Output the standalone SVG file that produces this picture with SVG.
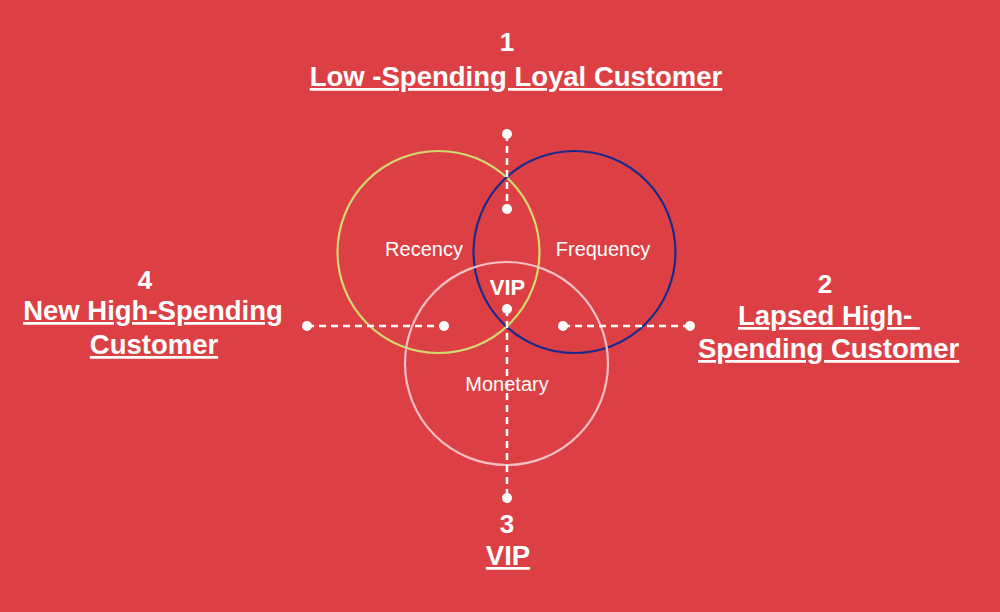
<svg xmlns="http://www.w3.org/2000/svg" width="1000" height="612" viewBox="0 0 1000 612">
<style>
.bg{fill:#DC4045}
.ring{fill:none;stroke-width:2.2}
.lbl{font-family:"Liberation Sans",Arial,sans-serif;font-size:20px;fill:#ffffff}
.num{font-family:"Liberation Sans",Arial,sans-serif;font-size:26px;font-weight:bold;fill:#ffffff;text-anchor:middle}
.ttl{font-family:"Liberation Sans",Arial,sans-serif;font-size:27.5px;font-weight:bold;fill:#ffffff;text-decoration:underline;white-space:pre}
.dash{stroke:#ffffff;stroke-width:2.5;stroke-dasharray:7 5;fill:none}
.dot{fill:#ffffff}
</style>
<rect class="bg" x="0" y="0" width="1000" height="612"/>
<g id="recency">
<circle class="ring" cx="438.5" cy="252" r="101" stroke="#D3DA6C"/>
<text class="lbl" x="424" y="256" text-anchor="middle">Recency</text>
</g>
<g id="frequency">
<circle class="ring" cx="574.5" cy="252" r="101" stroke="#1B2A8A"/>
<text class="lbl" x="603" y="256" text-anchor="middle">Frequency</text>
</g>
<g id="monetary">
<circle class="ring" cx="506.5" cy="363.5" r="101.5" stroke="#F4BFC5"/>
<text class="lbl" x="507" y="391" text-anchor="middle">Monetary</text>
</g>
<g id="vip-center">
<text x="507.5" y="295" text-anchor="middle" font-family="Liberation Sans,Arial,sans-serif" font-size="22" font-weight="bold" fill="#ffffff">VIP</text>
</g>
<g id="connectors">
<line class="dash" x1="507" y1="134" x2="507" y2="209"/>
<line class="dash" x1="507" y1="309" x2="507" y2="498"/>
<line class="dash" x1="307" y1="326" x2="444" y2="326"/>
<line class="dash" x1="563" y1="326" x2="690" y2="326"/>
<circle class="dot" cx="507" cy="134" r="5"/>
<circle class="dot" cx="507" cy="209" r="5"/>
<circle class="dot" cx="507" cy="309" r="5"/>
<circle class="dot" cx="507" cy="498" r="5"/>
<circle class="dot" cx="307" cy="326" r="5"/>
<circle class="dot" cx="444" cy="326" r="5"/>
<circle class="dot" cx="563" cy="326" r="5"/>
<circle class="dot" cx="690" cy="326" r="5"/>
</g>
<g id="seg1">
<text class="num" x="507" y="51">1</text>
<text class="ttl" x="516" y="86" text-anchor="middle">Low -Spending Loyal Customer</text>
</g>
<g id="seg2">
<text class="num" x="825" y="293">2</text>
<text class="ttl" x="738" y="325">Lapsed High- </text>
<text class="ttl" x="698" y="358">Spending Customer</text>
</g>
<g id="seg3">
<text class="num" x="507" y="533">3</text>
<text class="ttl" x="508" y="565" text-anchor="middle">VIP</text>
</g>
<g id="seg4">
<text class="num" x="145" y="289">4</text>
<text class="ttl" x="153" y="320" text-anchor="middle">New High-Spending</text>
<text class="ttl" x="154" y="354" text-anchor="middle">Customer</text>
</g>
</svg>
